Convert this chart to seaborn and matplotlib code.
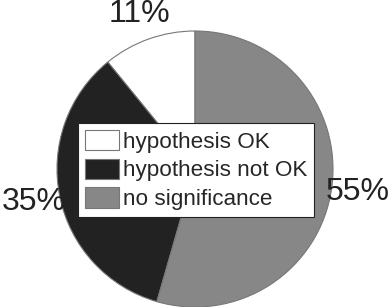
import matplotlib
matplotlib.use('Agg')
import matplotlib.pyplot as plt
import seaborn as sns

# Data
categories = ['hypothesis OK', 'hypothesis not OK', 'no significance']
values = [11, 35, 55]
pct_labels = ['11%', '35%', '55%']
colors = ['#ffffff', '#222222', '#878787']

sns.set_style('white')
plt.rcParams['font.family'] = ['Liberation Sans', 'DejaVu Sans']

fig = plt.figure(figsize=(3.9, 3.07), dpi=100)
ax = fig.add_axes([0, 0, 1, 1])

# Pie chart, starting at 12 o'clock, counterclockwise
wedges, texts = ax.pie(values, labels=pct_labels, colors=colors, startangle=90,
                       counterclock=True, labeldistance=1.19,
                       wedgeprops={'edgecolor': '#777777', 'linewidth': 0.8},
                       textprops={'fontsize': 23, 'color': '#222222'})
for t in texts:
    t.set_ha('center')
    t.set_va('center')

ax.set_xlim(-195 / 138, 195 / 138)
ax.set_ylim(-138 / 138, 169 / 138)
ax.set_aspect('equal')
ax.axis('off')

# Legend over the pie
leg = ax.legend(wedges, categories, loc='upper left',
                bbox_to_anchor=(78 / 390, 1 - 123 / 307), bbox_transform=fig.transFigure,
                borderaxespad=0, fontsize=16.2, frameon=True, fancybox=False,
                handlelength=1.5, handleheight=1.0, handletextpad=0.2,
                labelspacing=0.27, borderpad=0.3)
leg.get_frame().set_edgecolor('#222222')
leg.get_frame().set_linewidth(0.8)
leg.get_frame().set_alpha(1)

fig.savefig('out.png', dpi=100)
